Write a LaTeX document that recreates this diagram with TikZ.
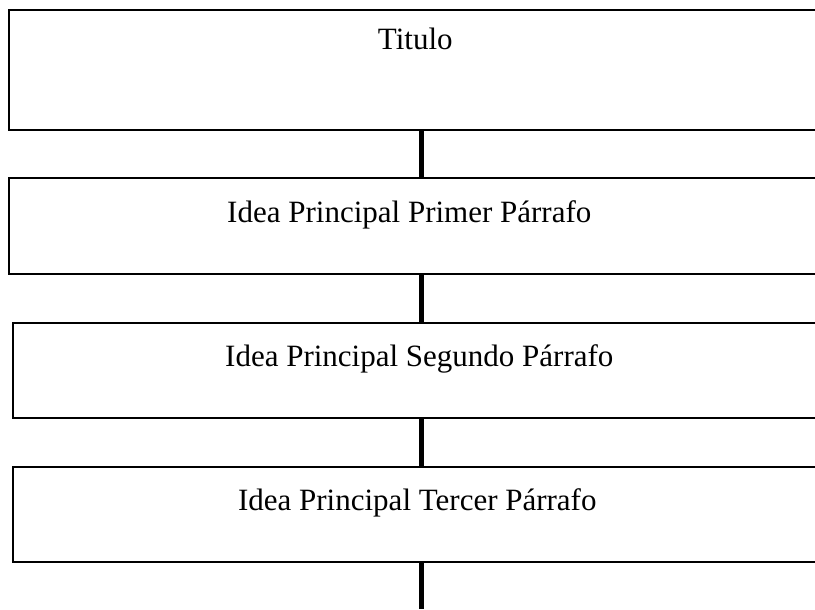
\documentclass[tikz,border=0pt]{standalone}
\usepackage{fontspec}
\setmainfont{Liberation Serif}
\usetikzlibrary{calc,positioning}

\tikzset{
  ideabox/.style={draw=black,line width=1.6pt,rectangle,anchor=north west,
    minimum width=817pt,inner sep=0pt},
  ideatext/.style={anchor=base,inner sep=0pt,font=\fontsize{31}{36}\selectfont},
  link/.style={line width=5pt,black}
}

\begin{document}
\begin{tikzpicture}[x=1pt,y=-1pt]
      \useasboundingbox (0,0) rectangle (815,610);
      \coordinate (axis) at (421.5,0);
      \coordinate (fin) at (421.5,609);
      % boxes
      \node[ideabox,minimum height=120pt] (titulo) at (8,9) {};
      \node[ideabox,minimum height=96pt] (primero) at (8,177) {};
      \node[ideabox,minimum height=95pt] (segundo) at (12,322) {};
      \node[ideabox,minimum height=95pt] (tercero) at (12,466) {};
      % texts
      \node[ideatext] (tituloTxt) at ([xshift=-2pt,yshift=-41pt]titulo.north) {Titulo};
      \node[ideatext] (primeroTxt) at ([xshift=-8pt,yshift=-45pt]primero.north) {Idea Principal Primer Párrafo};
      \node[ideatext] (segundoTxt) at ([xshift=-2pt,yshift=-44pt]segundo.north) {Idea Principal Segundo Párrafo};
      \node[ideatext] (terceroTxt) at ([xshift=-4pt,yshift=-44pt]tercero.north) {Idea Principal Tercer Párrafo};
      % connectors
      \draw[link] (titulo.south -| axis) -- (primero.north -| axis);
      \draw[link] (primero.south -| axis) -- (segundo.north -| axis);
      \draw[link] (segundo.south -| axis) -- (tercero.north -| axis);
      \draw[link] (tercero.south -| axis) -- (fin);
\end{tikzpicture}
\end{document}
